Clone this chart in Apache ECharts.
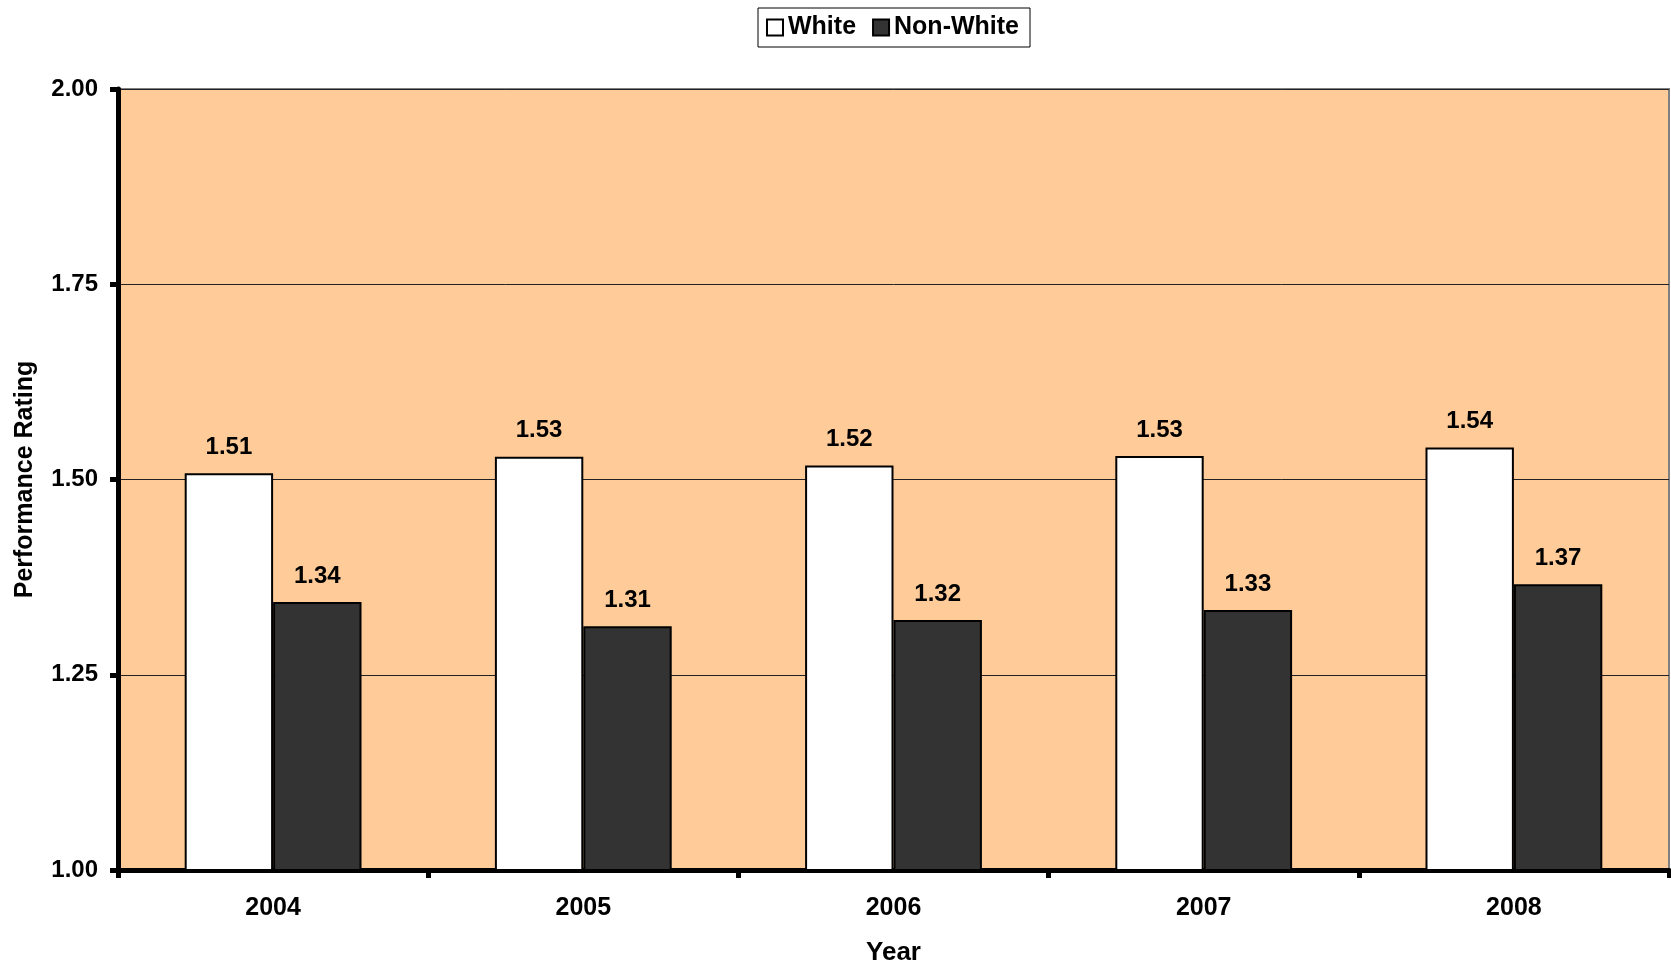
<!DOCTYPE html>
<html><head><meta charset="utf-8">
<script src="https://cdn.jsdelivr.net/npm/echarts@6/dist/echarts.min.js"></script>
<style>html,body{margin:0;padding:0;background:#fff;}#c{width:1671px;height:964px;}</style>
</head><body><div id="c"></div>
<script>
const categories = ['2004', '2005', '2006', '2007', '2008'];
const whiteValues = [1.508, 1.529, 1.518, 1.530, 1.541];
const nonWhiteValues = [1.343, 1.312, 1.320, 1.333, 1.366];
const yTicks = [1.00, 1.25, 1.50, 1.75, 2.00];

const FONT = '"Liberation Sans", Arial, sans-serif';
const chart = echarts.init(document.getElementById('c'));
const labelStyle = {
  show: true, position: 'top', distance: 14,
  color: '#000', fontFamily: FONT, fontWeight: 'bold', fontSize: 24,
  formatter: p => p.value.toFixed(2)
};
chart.setOption({
  animation: false,
  backgroundColor: '#fff',
  textStyle: { fontFamily: FONT },
  legend: {
    left: 758, top: 8,
    padding: [7, 11, 7, 8],
    borderColor: '#000', borderWidth: 1,
    itemWidth: 16, itemHeight: 16, itemGap: 16,
    icon: 'rect',
    textStyle: { fontFamily: FONT, fontWeight: 'bold', fontSize: 25, color: '#000' },
    data: ['White', 'Non-White']
  },
  grid: {
    left: 118, right: 2, top: 89, bottom: 94,
    outerBoundsMode: 'none', containLabel: false,
    show: true, backgroundColor: '#FFCC99', borderColor: '#808080', borderWidth: 2
  },
  xAxis: {
    type: 'category', data: categories,
    name: 'Year', nameLocation: 'middle', nameGap: 70,
    nameTextStyle: { fontFamily: FONT, fontWeight: 'bold', fontSize: 26, color: '#000' },
    axisLine: { lineStyle: { color: '#000', width: 5 } },
    axisTick: { show: true, length: 8, lineStyle: { color: '#000', width: 5 } },
    axisLabel: { margin: 26, fontFamily: FONT, fontWeight: 'bold', fontSize: 25, color: '#000' }
  },
  yAxis: {
    type: 'value', min: 1.00, max: 2.00, interval: 0.25,
    name: 'Performance Rating', nameLocation: 'middle', nameGap: 80,
    nameTextStyle: { fontFamily: FONT, fontWeight: 'bold', fontSize: 25, color: '#000' },
    axisLine: { show: true, lineStyle: { color: '#000', width: 5 } },
    axisTick: { show: true, length: 8, lineStyle: { color: '#000', width: 5 } },
    axisLabel: { margin: 20, fontFamily: FONT, fontWeight: 'bold', fontSize: 24, color: '#000',
      formatter: v => { const t = yTicks.find(x => Math.abs(x - v) < 1e-9); return (t !== undefined ? t : v).toFixed(2); } },
    splitLine: { show: true, lineStyle: { color: '#222', width: 1 } }
  },
  series: [
    { name: 'White', type: 'bar', data: whiteValues, barGap: '0%', barCategoryGap: '43%',
      itemStyle: { color: '#FFFFFF', borderColor: '#000', borderWidth: 2 },
      label: labelStyle },
    { name: 'Non-White', type: 'bar', data: nonWhiteValues,
      itemStyle: { color: '#333333', borderColor: '#000', borderWidth: 2 },
      label: labelStyle }
  ]
});
</script></body></html>
